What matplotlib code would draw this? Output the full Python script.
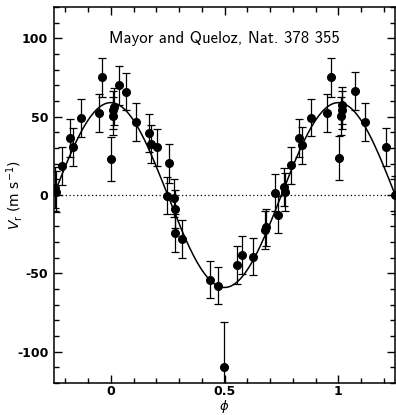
import numpy as np
import matplotlib
matplotlib.use("Agg")
import matplotlib.pyplot as plt
from matplotlib.ticker import MultipleLocator, FixedLocator

# 51 Peg radial velocities folded on the orbital phase
phase = [-0.247, -0.241, -0.214, -0.177, -0.164, -0.129, -0.053, -0.037,
         -0.001, 0.009, 0.012, 0.015, 0.035, 0.067, 0.109, 0.167, 0.179,
         0.204, 0.256, 0.248, 0.280, 0.282, 0.282, 0.314,
         0.436, 0.471, 0.498, 0.553, 0.578, 0.627, 0.677, 0.681, 0.733,
         0.722, 0.763, 0.765, 0.793, 0.828, 0.840, 0.878, 0.949, 0.966,
         1.001, 1.012, 1.016, 1.016, 1.075, 1.117, 1.210, 1.250]
vel = [4.6, 2.1, 18.5, 36.3, 30.8, 49.3, 52.2, 75.2,
       23.2, 50.3, 54.1, 56.5, 70.0, 66.0, 46.5, 39.5, 32.5,
       30.4, 20.2, -0.4, -1.7, -8.9, -24.4, -28.2,
       -54.0, -57.8, -109.8, -44.6, -38.4, -39.3, -22.3, -20.6, -12.5,
       1.5, 5.3, 2.1, 18.9, 36.6, 31.7, 49.5, 52.5, 75.3,
       23.6, 50.5, 54.1, 57.2, 66.4, 46.7, 30.8, 0.0]
verr = [13, 13, 12, 12, 12, 12, 12, 12.5,
        14, 12, 12, 12, 12.5, 12, 12, 12, 12,
        12, 12.3, 12, 12, 12, 12, 12,
        12, 12, 29, 12, 12, 12, 12, 12, 12,
        12, 12, 12, 12, 12, 12, 12, 12, 12.5,
        14, 12, 12, 12, 12, 12, 12, 12]

xticks = [0, 0.5, 1]
xticklabels = ['0', '0.5', '1']
yticks = [-100, -50, 0, 50, 100]
yticklabels = ['-100', '-50', '0', '50', '100']

# circular orbit fit, semi-amplitude in m/s
K = 59.0

fig = plt.figure(figsize=(3.96, 4.15), dpi=100)
ax = fig.add_axes([0.136, 0.077, 0.862, 0.906])

ph = np.linspace(-0.25, 1.25, 500)
ax.plot(ph, K * np.cos(2 * np.pi * ph), color='k', lw=1.1)
ax.axhline(0, color='k', lw=0.9, ls=(0, (1, 2)))
ax.errorbar(phase, vel, yerr=verr, fmt='o', color='k', ms=5.5,
            elinewidth=0.9, capsize=2.6, capthick=0.9)

ax.set_xlim(-0.25, 1.25)
ax.set_ylim(-120, 120)

ax.xaxis.set_major_locator(FixedLocator(xticks))
ax.xaxis.set_minor_locator(MultipleLocator(0.1))
ax.yaxis.set_major_locator(FixedLocator(yticks))
ax.yaxis.set_minor_locator(MultipleLocator(10))
ax.set_xticklabels(xticklabels)
ax.set_yticklabels(yticklabels)

ax.tick_params(which='both', direction='in', top=True, right=True, width=1)
ax.tick_params(which='major', length=6, labelsize=9, pad=4)
ax.tick_params(axis='x', which='major', pad=1.5)
ax.tick_params(which='minor', length=3.5)
for lab in ax.get_xticklabels() + ax.get_yticklabels():
    lab.set_fontweight('bold')
for sp in ax.spines.values():
    sp.set_linewidth(1.1)

ax.set_xlabel(r'$\phi$', fontsize=9.5)
ax.set_ylabel(r'$V_{\rm r}\ (\rm m\ s^{-1})$', fontsize=10)
ax.xaxis.set_label_coords(0.5, -0.040)
ax.yaxis.set_label_coords(-0.085, 0.5)

ax.text(0.5, 100, 'Mayor and Queloz, Nat. 378 355', ha='center', va='center',
        fontsize=12, family='cmss10')

fig.savefig('out.png', dpi=100)
